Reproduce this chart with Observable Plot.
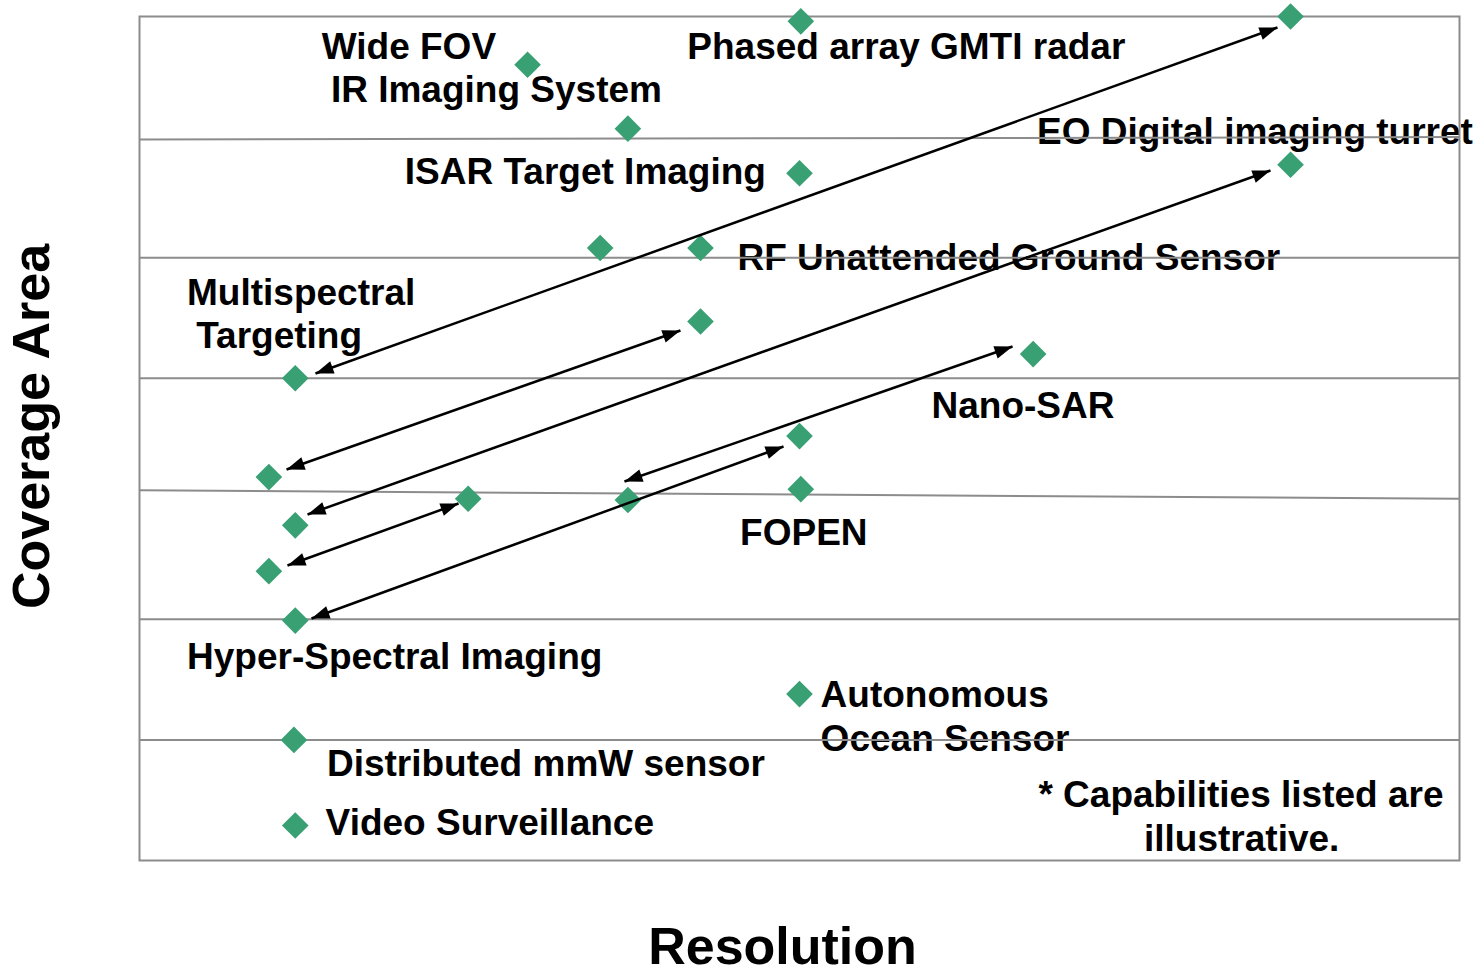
<!DOCTYPE html>
<html>
<head>
<meta charset="utf-8">
<script src="https://cdn.jsdelivr.net/npm/d3@7"></script>
<script src="https://cdn.jsdelivr.net/npm/@observablehq/plot@0.6"></script>
<style>
  html, body { margin: 0; padding: 0; background: #ffffff; }
  svg { display: block; }
</style>
</head>
<body>
<script>
// ---- Data (resolution on x, coverage area on y; arbitrary illustrative units) ----
const sensorX = [5.01, 8.72, 2.94, 3.70, 5.00, 8.72, 3.49, 4.25, 4.25, 1.18, 6.77,
                 5.00, 0.98, 5.01, 2.49, 3.70, 1.18, 0.98, 1.18, 5.00, 1.17, 1.18];
const sensorY = [6.96, 7.00, 6.60, 6.07, 5.70, 5.77, 5.08, 5.08, 4.47, 4.00, 4.20,
                 3.52, 3.18, 3.08, 3.00, 2.99, 2.78, 2.40, 1.99, 1.38, 1.00, 0.29];

const labelText = ["Wide FOV", "IR Imaging System", "Phased array GMTI radar",
  "EO Digital imaging turret", "ISAR Target Imaging", "RF Unattended Ground Sensor",
  "Multispectral", "Targeting", "Nano-SAR", "FOPEN", "Hyper-Spectral Imaging",
  "Autonomous", "Ocean Sensor", "Distributed mmW sensor", "Video Surveillance",
  "* Capabilities listed are", "illustrative."];
const labelX = [1.38, 1.45, 4.15, 6.80, 2.01, 4.53, 0.36, 0.43, 6.00, 4.55, 0.36,
                5.16, 5.16, 1.42, 1.41, 6.81, 7.61];
const labelY = [6.65, 6.29, 6.65, 5.94, 5.61, 4.90, 4.61, 4.25, 3.67, 2.62, 1.59,
                1.27, 0.91, 0.70, 0.21, 0.44, 0.08];

// capability-improvement arrows (two-headed)
const arrowX1 = [1.333, 1.114, 1.273, 1.121, 1.303, 3.674];
const arrowY1 = [4.039, 3.243, 2.870, 2.447, 2.007, 3.143];
const arrowX2 = [8.621, 4.098, 8.568, 2.417, 4.879, 6.614];
const arrowY2 = [6.909, 4.396, 5.723, 2.961, 3.434, 4.263];

// horizontal band lines (left end, right end)
const bandLeft  = [1, 2, 3.07, 4, 5, 5.98];
const bandRight = [1, 2, 3.00, 4, 5, 6.00];

const xTitle = "Resolution";
const yTitle = "Coverage Area";

// ---- Build tables ----
const sensors = sensorX.map((x, i) => ({x, y: sensorY[i]}));
const labels = labelText.map((t, i) => ({t, x: labelX[i], y: labelY[i]}));
const arrows = arrowX1.map((x1, i) => ({x1, y1: arrowY1[i], x2: arrowX2[i], y2: arrowY2[i]}));
const bands = bandLeft.map((l, i) => ({x1: 0, y1: l, x2: 10, y2: bandRight[i]}));

const FONT = "'Liberation Sans', Arial, Helvetica, sans-serif";
const GREEN = "#38a073";
const GRAY = "#8c8c8c";

function head(color) {
  const m = d3.create("svg:marker")
    .attr("viewBox", "-18 -7 18 14")
    .attr("markerWidth", 18)
    .attr("markerHeight", 14)
    .attr("markerUnits", "userSpaceOnUse")
    .attr("orient", "auto-start-reverse")
    .attr("refX", 0)
    .attr("refY", 0)
    .attr("overflow", "visible");
  m.append("path").attr("d", "M0,0L-18,-6.5L-18,6.5Z").attr("fill", color).attr("stroke", "none");
  return m.node();
}

const chart = Plot.plot({
  width: 1480,
  height: 980,
  marginLeft: 139,
  marginRight: 21,
  marginTop: 16,
  marginBottom: 120,
  style: {fontFamily: FONT, background: "#ffffff", color: "#000"},
  x: {domain: [0, 10], axis: null},
  y: {domain: [0, 7], axis: null},
  marks: [
    Plot.text(labels, {x: "x", y: "y", text: "t", textAnchor: "start", lineAnchor: "bottom",
      fontSize: 37, fontWeight: "bold", fill: "#000"}),
    Plot.link(bands, {x1: "x1", y1: "y1", x2: "x2", y2: "y2", stroke: GRAY, strokeWidth: 2}),
    Plot.frame({stroke: GRAY, strokeWidth: 2}),
    Plot.dot(sensors, {x: "x", y: "y", symbol: "diamond2", r: 12, fill: GREEN, stroke: "none"}),
    Plot.link(arrows, {x1: "x1", y1: "y1", x2: "x2", y2: "y2", stroke: "#000", strokeWidth: 2.5,
      markerStart: head, markerEnd: head}),
    Plot.text([yTitle], {frameAnchor: "left", text: d => d, rotate: -90, dx: -107, dy: -12,
      textAnchor: "middle", lineAnchor: "middle",
      fontSize: 52, fontWeight: "bold", fill: "#000"}),
    Plot.text([xTitle], {frameAnchor: "bottom", text: d => d, dx: -17, dy: 87,
      textAnchor: "middle", lineAnchor: "middle",
      fontSize: 52, fontWeight: "bold", fill: "#000"})
  ]
});
document.body.appendChild(chart);
</script>
</body>
</html>
